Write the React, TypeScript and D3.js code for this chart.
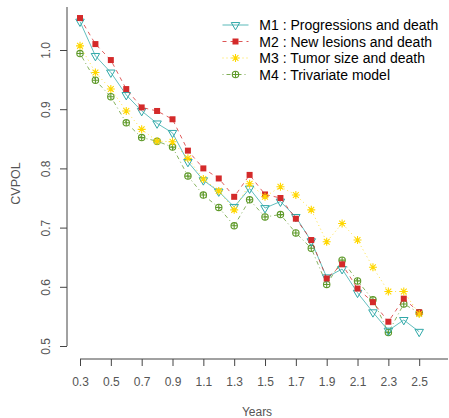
import React, { useRef, useEffect } from "react";
import * as d3 from "d3";

// time points (years)
const years = [0.3, 0.4, 0.5, 0.6, 0.7, 0.8, 0.9, 1.0, 1.1, 1.2, 1.3, 1.4, 1.5, 1.6, 1.7, 1.8, 1.9, 2.0, 2.1, 2.2, 2.3, 2.4, 2.5];

// CVPOL per model
const m1 = [1.048, 0.99, 0.962, 0.924, 0.897, 0.876, 0.86, 0.811, 0.78, 0.761, 0.735, 0.766, 0.733, 0.744, 0.718, 0.677, 0.616, 0.63, 0.59, 0.557, 0.526, 0.544, 0.524];
const m2 = [1.054, 1.01, 0.983, 0.934, 0.903, 0.897, 0.883, 0.83, 0.8, 0.783, 0.752, 0.789, 0.756, 0.75, 0.715, 0.679, 0.614, 0.638, 0.597, 0.574, 0.541, 0.58, 0.557];
const m3 = [1.007, 0.962, 0.934, 0.897, 0.866, 0.846, 0.845, 0.817, 0.782, 0.762, 0.73, 0.774, 0.752, 0.769, 0.755, 0.73, 0.676, 0.707, 0.679, 0.633, 0.592, 0.592, 0.554];
const m4 = [0.994, 0.949, 0.921, 0.877, 0.852, 0.846, 0.836, 0.787, 0.755, 0.734, 0.703, 0.747, 0.718, 0.722, 0.691, 0.665, 0.604, 0.645, 0.61, 0.578, 0.523, 0.571, 0.556];

const labels = [
  "M1 : Progressions and death",
  "M2 : New lesions and death",
  "M3 : Tumor size and death",
  "M4 : Trivariate model",
];

const xTicks = [0.3, 0.5, 0.7, 0.9, 1.1, 1.3, 1.5, 1.7, 1.9, 2.1, 2.3, 2.5];
const yTicks = [0.5, 0.6, 0.7, 0.8, 0.9, 1.0];

const FONT = "'Liberation Sans', Arial, sans-serif";

function App() {
  const svgRef = useRef(null);
  const width = 449;
  const height = 418;

  useEffect(() => {
    const svg = d3.select(svgRef.current);
    svg.selectAll("*").remove();

    const x = d3.scaleLinear().domain([0.3, 2.5]).range([80, 419.2]);
    const y = d3.scaleLinear().domain([0.5, 1.0]).range([346, 50]);

    const series = [
      { key: "M1", values: m1, color: "#2fa8a8", dash: null, sym: "tri" },
      { key: "M2", values: m2, color: "#d42a2a", dash: "4,4", sym: "square" },
      { key: "M3", values: m3, color: "#ffd700", dash: "1,3", sym: "star" },
      { key: "M4", values: m4, color: "#5f9a2a", dash: "1,3,4,3", sym: "cplus" },
    ];

    // draws one plotting symbol at (cx, cy)
    function symbol(g, type, cx, cy, color) {
      if (type === "tri") {
        const r = 4.9;
        const xc = r * 0.866;
        g.append("path")
          .attr("d", `M${cx - xc},${cy - r / 2}L${cx + xc},${cy - r / 2}L${cx},${cy + r}Z`)
          .attr("fill", "none")
          .attr("stroke", color)
          .attr("stroke-width", 1);
      } else if (type === "square") {
        g.append("rect")
          .attr("x", cx - 3)
          .attr("y", cy - 3)
          .attr("width", 6)
          .attr("height", 6)
          .attr("fill", color);
      } else if (type === "star") {
        const a = 4;
        const b = 2.9;
        g.append("path")
          .attr(
            "d",
            `M${cx - a},${cy}L${cx + a},${cy}M${cx},${cy - a}L${cx},${cy + a}` +
              `M${cx - b},${cy - b}L${cx + b},${cy + b}M${cx - b},${cy + b}L${cx + b},${cy - b}`
          )
          .attr("stroke", color)
          .attr("stroke-width", 1.1)
          .attr("fill", "none");
      } else {
        const r = 3.2;
        g.append("circle")
          .attr("cx", cx)
          .attr("cy", cy)
          .attr("r", r)
          .attr("fill", "none")
          .attr("stroke", color)
          .attr("stroke-width", 1.1);
        g.append("path")
          .attr("d", `M${cx - r},${cy}L${cx + r},${cy}M${cx},${cy - r}L${cx},${cy + r}`)
          .attr("stroke", color)
          .attr("stroke-width", 1.1);
      }
    }

    const line = d3
      .line()
      .x((d) => x(d[0]))
      .y((d) => y(d[1]));

    // M4 first so its last point sits under the others
    const order = [3, 0, 1, 2];
    order.forEach((i) => {
      const s = series[i];
      const pts = years.map((yr, j) => [yr, s.values[j]]);
      const g = svg.append("g");
      g.append("path")
        .attr("d", line(pts))
        .attr("fill", "none")
        .attr("stroke", s.color)
        .attr("stroke-opacity", 0.75)
        .attr("stroke-width", 1)
        .attr("stroke-dasharray", s.dash);
      pts.forEach((p) => symbol(g, s.sym, x(p[0]), y(p[1]), s.color));
    });

    // x axis
    const xAxis = svg
      .append("g")
      .attr("transform", "translate(0,359)")
      .call(
        d3
          .axisBottom(x)
          .tickValues(xTicks)
          .tickSize(7)
          .tickPadding(11)
          .tickFormat(d3.format(".1f"))
      );
    xAxis.select(".domain").remove();
    xAxis.selectAll("line").attr("stroke", "#444");
    xAxis
      .selectAll("text")
      .attr("fill", "#555")
      .style("font", `12px ${FONT}`);
    xAxis
      .append("line")
      .attr("x1", 80)
      .attr("x2", 448)
      .attr("stroke", "#444");

    // y axis
    const yAxis = svg
      .append("g")
      .attr("transform", "translate(67,0)")
      .call(
        d3
          .axisLeft(y)
          .tickValues(yTicks)
          .tickSize(7)
          .tickFormat(d3.format(".1f"))
      );
    yAxis.select(".domain").remove();
    yAxis.selectAll("line").attr("stroke", "#444");
    yAxis
      .selectAll("text")
      .attr("x", null)
      .attr("dy", null)
      .attr("text-anchor", "middle")
      .attr("transform", "translate(-17.5,0) rotate(-90)")
      .attr("fill", "#555")
      .style("font", `12px ${FONT}`);
    yAxis
      .append("line")
      .attr("y1", 7)
      .attr("y2", 346)
      .attr("stroke", "#444");

    // axis titles
    svg
      .append("text")
      .attr("x", 257)
      .attr("y", 416)
      .attr("text-anchor", "middle")
      .attr("fill", "#555")
      .style("font", `12px ${FONT}`)
      .text("Years");

    svg
      .append("text")
      .attr("transform", "translate(19.5,183.5) rotate(-90)")
      .attr("text-anchor", "middle")
      .attr("fill", "#555")
      .style("font", `12.5px ${FONT}`)
      .text("CVPOL");

    // legend
    const legend = svg.append("g");
    series.forEach((s, i) => {
      const ly = 25 + i * 16.5;
      legend
        .append("line")
        .attr("x1", 222.5)
        .attr("x2", 248.5)
        .attr("y1", ly)
        .attr("y2", ly)
        .attr("stroke", s.color)
        .attr("stroke-opacity", 0.8)
        .attr("stroke-dasharray", s.dash);
      symbol(legend, s.sym, 235.5, ly, s.color);
      legend
        .append("text")
        .attr("x", 259.3)
        .attr("y", ly + 5)
        .attr("fill", "#000")
        .style("font", `14px ${FONT}`)
        .text(labels[i]);
    });
  }, []);

  return (
    <svg
      ref={svgRef}
      width={width}
      height={height}
      style={{ position: "absolute", left: 0, top: 0, background: "#fff" }}
    ></svg>
  );
}

export default App;
